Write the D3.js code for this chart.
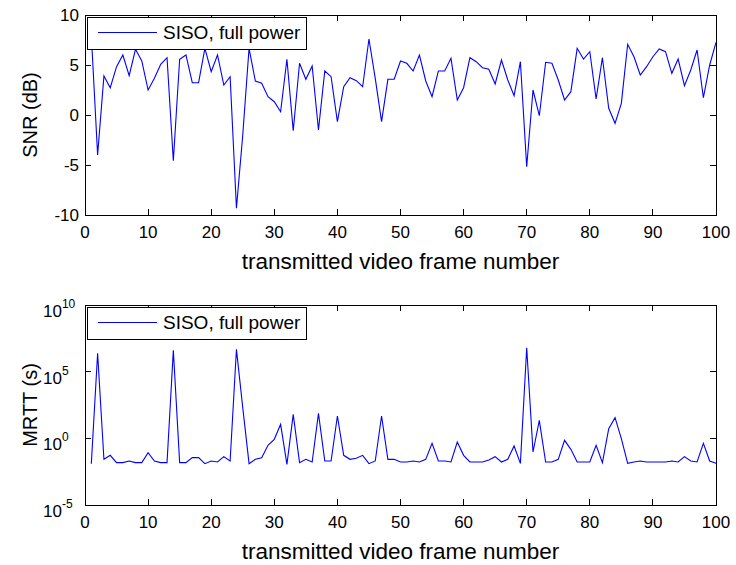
<!DOCTYPE html>
<meta charset="utf-8">
<style>
body { margin: 0; background: #fff; }
svg { display: block; }
text { font-family: "Liberation Sans", Arial, sans-serif; fill: #000; }
</style>
<body>
<svg width="736" height="565"></svg>
<script src="https://d3js.org/d3.v7.min.js"></script>
<script>

// frame numbers 1..100
var frames = d3.range(1, 101);

var snr = [8.0, -4.0, 3.9, 2.73, 4.83, 6.0, 3.93, 6.57, 5.4, 2.5,
  3.67, 5.07, 5.73, -4.57, 5.57, 6.0, 3.23, 3.23, 6.67, 4.33,
  6.0, 3.0, 3.83, -9.33, -2.0, 6.67, 3.4, 3.17, 1.83, 1.33,
  0.33, 5.57, -1.57, 5.17, 3.57, 4.9, -1.5, 4.4, 3.83, -0.67,
  2.83, 3.73, 3.43, 2.83, 7.6, 3.67, -0.67, 3.57, 3.57, 5.4,
  5.17, 4.4, 6.0, 3.4, 1.83, 4.4, 4.4, 5.67, 1.5, 2.73,
  5.73, 5.33, 4.73, 4.57, 3.1, 5.5, 3.5, 1.93, 5.33, -5.17,
  2.5, -0.07, 5.27, 5.17, 3.5, 1.5, 2.33, 6.67, 5.6, 6.33,
  1.6, 5.73, 0.67, -0.83, 1.17, 7.07, 5.83, 4.0, 4.83, 5.83,
  6.6, 6.33, 4.17, 5.6, 2.93, 4.5, 6.5, 1.73, 5.0, 7.27];

// MRTT in seconds
var mrtt = [1.26e-2, 2.37e6, 2.66e-2, 5.31e-2, 1.5e-2, 1.5e-2, 2.0e-2, 1.5e-2, 1.5e-2, 8.41e-2,
  2.0e-2, 1.5e-2, 1.5e-2, 3.98e6, 1.5e-2, 1.5e-2, 3.55e-2, 3.55e-2, 1.26e-2, 2.0e-2,
  1.68e-2, 4.22e-2, 2.0e-2, 4.73e6, 2.0e2, 1.26e-2, 2.66e-2, 3.55e-2, 0.299, 0.841,
  11.2, 1.12e-2, 63.1, 1.5e-2, 2.66e-2, 1.68e-2, 75.0, 2.0e-2, 2.0e-2, 47.3,
  5.31e-2, 2.66e-2, 3.16e-2, 5.31e-2, 1.26e-2, 2.0e-2, 47.3, 2.66e-2, 2.66e-2, 1.68e-2,
  1.68e-2, 2.0e-2, 1.68e-2, 2.66e-2, 0.422, 2.0e-2, 2.0e-2, 1.68e-2, 0.531, 5.31e-2,
  1.68e-2, 1.68e-2, 1.68e-2, 2.37e-2, 4.22e-2, 1.68e-2, 2.66e-2, 0.266, 1.33e-2, 6.31e6,
  9.44e-2, 22.4, 1.68e-2, 1.68e-2, 2.66e-2, 0.708, 0.150, 1.68e-2, 1.68e-2, 1.68e-2,
  0.299, 1.5e-2, 5.31, 35.5, 0.944, 1.33e-2, 1.68e-2, 2.0e-2, 1.68e-2, 1.68e-2,
  1.68e-2, 1.68e-2, 2.0e-2, 1.68e-2, 4.22e-2, 2.0e-2, 1.68e-2, 0.422, 2.0e-2, 1.33e-2];

var xTicks = [0, 10, 20, 30, 40, 50, 60, 70, 80, 90, 100];
var snrTicks = [-10, -5, 0, 5, 10];
var mrttTicks = [1e-5, 1, 1e5, 1e10];
var mrttExps = ["-5", "0", "5", "10"];
var legendLabel = "SISO, full power";
var xLabel = "transmitted video frame number";

var svg = d3.select("svg");
var left = 85, right = 716;

var x = d3.scaleLinear().domain([0, 100]).range([left, right]);
var y1 = d3.scaleLinear().domain([-10, 10]).range([215, 15]);
var y2 = d3.scaleLog().domain([1e-5, 1e10]).range([505, 305]);

function tick(g, x1, y1_, x2, y2_) {
  g.append("line")
      .attr("x1", x1).attr("y1", y1_).attr("x2", x2).attr("y2", y2_)
      .attr("stroke", "#000")
      .style("shape-rendering", "crispEdges");
}

function panel(y, top, bottom, values, yLabel) {
  var g = svg.append("g");

  g.append("rect")
      .attr("x", left).attr("y", top)
      .attr("width", right - left).attr("height", bottom - top)
      .attr("fill", "none").attr("stroke", "#000")
      .style("shape-rendering", "crispEdges");

  // ticks point inward, matlab style
  xTicks.forEach(function(t) {
    tick(g, x(t), bottom, x(t), bottom - 6);
    tick(g, x(t), top, x(t), top + 6);
    g.append("text").attr("x", x(t)).attr("y", bottom + 23)
        .attr("text-anchor", "middle").style("font-size", "17px").text(t);
  });

  g.append("text")
      .attr("x", (left + right) / 2).attr("y", bottom + 54)
      .attr("text-anchor", "middle").style("font-size", "22.5px")
      .text(xLabel);

  g.append("text")
      .attr("transform", "translate(37," + (top + bottom) / 2 + ") rotate(-90)")
      .attr("text-anchor", "middle").style("font-size", "20px")
      .text(yLabel);

  var line = d3.line()
      .x(function(d, i) { return x(frames[i]); })
      .y(function(d) { return y(d); });

  g.append("path")
      .datum(values)
      .attr("d", line)
      .attr("fill", "none")
      .attr("stroke", "#0000ff")
      .attr("stroke-width", 1.1);

  var lg = g.append("g").attr("transform", "translate(" + (left + 2) + "," + (top + 2) + ")");
  lg.append("rect").attr("width", 219).attr("height", 32)
      .attr("fill", "#fff").attr("stroke", "#000").style("shape-rendering", "crispEdges");
  lg.append("line").attr("x1", 11).attr("x2", 70).attr("y1", 15.5).attr("y2", 15.5)
      .attr("stroke", "#0000ff").attr("stroke-width", 1.1);
  lg.append("text").attr("x", 76).attr("y", 22).style("font-size", "19px").text(legendLabel);

  return g;
}

var g1 = panel(y1, 15, 215, snr, "SNR (dB)");
snrTicks.forEach(function(t) {
  tick(g1, left, y1(t), left + 6, y1(t));
  tick(g1, right, y1(t), right - 6, y1(t));
  g1.append("text").attr("x", left - 6).attr("y", y1(t) + 6)
      .attr("text-anchor", "end").style("font-size", "17px").text(t);
});

var g2 = panel(y2, 305, 505, mrtt, "MRTT (s)");
mrttTicks.forEach(function(t, i) {
  tick(g2, left, y2(t), left + 6, y2(t));
  tick(g2, right, y2(t), right - 6, y2(t));
  var lab = g2.append("text").attr("x", 43).attr("y", y2(t) + 12).style("font-size", "17px");
  lab.append("tspan").text("10");
  lab.append("tspan").attr("dy", -9).style("font-size", "12px").text(mrttExps[i]);
});

</script>
</body>
